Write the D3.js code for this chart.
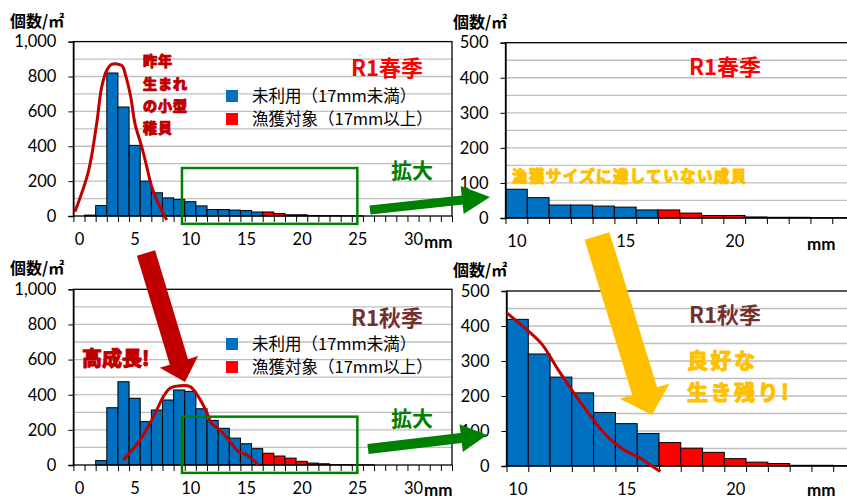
<!DOCTYPE html>
<html>
<head>
<meta charset="utf-8">
<script src="https://cdn.jsdelivr.net/npm/d3@7"></script>
<style>
body{margin:0;background:#fff}
svg{display:block}
text{font-family:Lato,"Noto Sans CJK JP",sans-serif}
.jp{font-family:"Noto Sans CJK JP",sans-serif}
</style>
</head>
<body>
<svg id="chart" width="847" height="499"></svg>
<script>
// size classes in mm (one bar per 1mm)
const binsAll = d3.range(0, 34);
const binsZoom = d3.range(10, 26);
const xLabelsAll = [0, 5, 10, 15, 20, 25, 30];
const xLabelsZoom = [10, 15, 20];
const yTicksAll = [0, 200, 400, 600, 800, 1000];
const yTicksZoom = [0, 100, 200, 300, 400, 500];

// individuals per m2, spring R1
const springVals = [0,5,60,820,625,405,200,133,104,95,82,58,37,37,34,31,23,23,14,7,7,3,2,2,1,1,0,0,0,0,0,0,0,0];
// individuals per m2, autumn R1
const autumnVals = [0,0,25,326,474,380,247,313,370,427,419,320,254,209,153,121,93,67,51,39,21,11,7,2,2,1,1,0,0,0,0,0,0,0];

// hand drawn red curves (mm, value)
const springCurveMm  = [-0.36,0.84,1.59,2.04,2.49,2.94,3.84,4.23,4.65,5.03,5.64,6.09,6.53,7.13,7.88];
const springCurveVal = [25,253,530,739,834,869,863,796,682,530,396,282,168,72,-23];
const autumnCurveMm  = [3.98,5.48,6.38,7.13,7.58,8.18,9.08,9.98,10.72,11.48,11.9,12.67,13.57,14.32,15.07,16.11];
const autumnCurveVal = [28,142,237,332,389,437,451,446,389,300,237,199,133,76,57,0];
const autumnZoomMm   = [9.54,10.53,11.15,11.83,12.6,13.5,14.13,14.9,15.66,16.1,16.57];
const autumnZoomVal  = [436,384,346,279,208,131,84,46,22,3,-16];

const BLUE = "#0070c0", RED = "#ff0000", DARKRED = "#c00000", GREEN = "#008000", YELLOW = "#ffc000", BROWN = "#73302f";

const svg = d3.select("#chart");

function panel(p){
  const g = svg.append("g");
  const x = d3.scaleBand().domain(p.bins).range([p.x0, p.x1]).padding(0);
  const xl = d3.scaleLinear().domain([p.bins[0]-0.5, p.bins[p.bins.length-1]+0.5]).range([p.x0, p.x1]);
  const y = d3.scaleLinear().domain([0, p.max]).range([p.y1, p.y0]);

  // grid
  g.append("g").selectAll("line")
    .data(d3.range(p.grid, p.max, p.grid))
    .enter().append("line")
    .attr("x1", p.x0).attr("x2", p.x1)
    .attr("y1", d => y(d)).attr("y2", d => y(d))
    .attr("stroke", "#bfbfbf").attr("stroke-width", 1.3);

  // bars
  const vals = p.bins.map(b => ({b: b, v: p.values[b]}));
  g.append("g").selectAll("rect")
    .data(vals.filter(d => d.v > 0))
    .enter().append("rect")
    .attr("x", d => x(d.b))
    .attr("width", x.bandwidth())
    .attr("y", d => y(d.v))
    .attr("height", d => y(0) - y(d.v))
    .attr("fill", d => d.b >= 17 ? RED : BLUE)
    .attr("stroke", "#000").attr("stroke-width", 1);

  // frame
  g.append("rect").attr("x", p.x0).attr("y", p.y0)
    .attr("width", p.x1 - p.x0).attr("height", p.y1 - p.y0)
    .attr("fill", "none").attr("stroke", "#000").attr("stroke-width", 1.3);

  // y axis
  const ya = g.append("g").attr("transform", "translate(" + p.x0 + ",0)")
    .call(d3.axisLeft(y).tickValues(p.yTicks).tickSize(5).tickPadding(12)
      .tickFormat(d3.format(",")));
  ya.select(".domain").attr("stroke-width", 1.3);
  ya.selectAll("text").attr("font-size", 16.5).attr("fill", "#000").attr("font-family", "Lato");

  // x ticks at bin edges
  const xt = g.append("g").attr("transform", "translate(0," + p.y1 + ")")
    .call(d3.axisBottom(xl).tickValues(p.bins.map(b => b - 0.5).concat([p.bins[p.bins.length-1] + 0.5]))
      .tickSize(6).tickFormat(""));
  xt.select(".domain").remove();
  // x labels
  const xa = g.append("g").attr("transform", "translate(0," + p.y1 + ")")
    .call(d3.axisBottom(xl).tickValues(p.xLabels).tickSize(0).tickPadding(p.labPad));
  xa.select(".domain").remove();
  xa.selectAll("text").attr("font-size", 16.5).attr("fill", "#000").attr("font-family", "Lato");

  // curve
  if (p.curveMm) {
    const line = d3.line().x(d => xl(d[0])).y(d => y(d[1])).curve(d3.curveCatmullRom.alpha(0.5));
    g.append("path").datum(d3.zip(p.curveMm, p.curveVal))
      .attr("d", line).attr("fill", "none")
      .attr("stroke", DARKRED).attr("stroke-width", 3).attr("stroke-linejoin", "round");
  }

  // unit
  g.append("text").attr("class", "jp").attr("x", p.unitX).attr("y", p.y0 - 15)
    .attr("font-size", 16).attr("font-weight", "bold").text("個数/㎡");

  return {x: x, xl: xl, y: y, g: g};
}

// ---------- panels ----------
const tl = panel({bins: binsAll, values: springVals, x0: 73.4, x1: 452, y0: 41.6, y1: 216, max: 1000, grid: 100,
  yTicks: yTicksAll, xLabels: xLabelsAll, labPad: 17, unitX: 10, curveMm: springCurveMm, curveVal: springCurveVal});
const tr = panel({bins: binsZoom, values: springVals, x0: 505.5, x1: 854, y0: 42.7, y1: 218, max: 500, grid: 50,
  yTicks: yTicksZoom, xLabels: xLabelsZoom, labPad: 17, unitX: 453});
const bl = panel({bins: binsAll, values: autumnVals, x0: 73.4, x1: 452, y0: 289.3, y1: 465, max: 1000, grid: 100,
  yTicks: yTicksAll, xLabels: xLabelsAll, labPad: 17, unitX: 10, curveMm: autumnCurveMm, curveVal: autumnCurveVal});
const br = panel({bins: binsZoom, values: autumnVals, x0: 506.5, x1: 855, y0: 291, y1: 466, max: 500, grid: 50,
  yTicks: yTicksZoom, xLabels: xLabelsZoom, labPad: 17, unitX: 453, curveMm: autumnZoomMm, curveVal: autumnZoomVal});

// "mm" axis titles
function txt(x, y, s, size, color, weight, cls){
  return svg.append("text").attr("x", x).attr("y", y).attr("font-size", size)
    .attr("fill", color || "#000").attr("font-weight", weight || "normal")
    .attr("class", cls || null).text(s);
}
txt(424, 248, "mm", 17, "#000", "bold").attr("font-family", "Lato");
txt(424, 496, "mm", 17, "#000", "bold").attr("font-family", "Lato");
txt(807, 250, "mm", 17, "#000", "bold").attr("font-family", "Lato");
txt(807, 496, "mm", 17, "#000", "bold").attr("font-family", "Lato");

// zoom boxes
[tl, bl].forEach(p => {
  svg.append("rect")
    .attr("x", p.xl(9.25)).attr("y", p.y(275))
    .attr("width", p.xl(25) - p.xl(9.25)).attr("height", p.y(-45) - p.y(275))
    .attr("fill", "none").attr("stroke", GREEN).attr("stroke-width", 2.5);
});

// legends
[0, 248].forEach(dy => {
  svg.append("rect").attr("x", 226).attr("y", 90 + dy).attr("width", 12).attr("height", 12).attr("fill", BLUE);
  svg.append("rect").attr("x", 226).attr("y", 113 + dy).attr("width", 12).attr("height", 12).attr("fill", RED);
  txt(252, 102 + dy, "未利用（17mm未満）", 16.5, "#000", "normal", "jp");
  txt(252, 125 + dy, "漁獲対象（17mm以上）", 16.5, "#000", "normal", "jp");
});

// season titles
txt(351, 76, "R1春季", 22, RED, "bold", "jp");
txt(689, 75, "R1春季", 22, RED, "bold", "jp");
txt(351, 326, "R1秋季", 22, BROWN, "bold", "jp");
txt(689, 323, "R1秋季", 22, BROWN, "bold", "jp");

// arrows
function arrow(x1, y1, x2, y2, sw, hw, hl, color){
  const dx = x2 - x1, dy = y2 - y1, L = Math.hypot(dx, dy);
  const ux = dx / L, uy = dy / L, nx = -uy, ny = ux;
  const bx = x2 - ux * hl, by = y2 - uy * hl;
  const pts = [
    [x1 + nx * sw / 2, y1 + ny * sw / 2],
    [bx + nx * sw / 2, by + ny * sw / 2],
    [bx + nx * hw / 2, by + ny * hw / 2],
    [x2, y2],
    [bx - nx * hw / 2, by - ny * hw / 2],
    [bx - nx * sw / 2, by - ny * sw / 2],
    [x1 - nx * sw / 2, y1 - ny * sw / 2]
  ];
  svg.append("path").attr("d", "M" + pts.join("L") + "Z").attr("fill", color);
}
arrow(370, 210, 490, 197, 9, 28, 28, GREEN);
arrow(368, 449, 487, 435, 10, 28, 26, GREEN);
arrow(146, 253, 185, 382, 19, 40, 21, DARKRED);
arrow(597, 236, 652, 415, 26, 52, 25, YELLOW);

// green labels
txt(391, 178, "拡大", 21, GREEN, "bold", "jp");
txt(391, 426, "拡大", 21, GREEN, "bold", "jp");

// outlined notes
function note(x, y, s, size, color, spacing){
  return txt(x, y, s, size, color, "bold", "jp")
    .attr("stroke", color).attr("stroke-width", 1.2).attr("stroke-linejoin", "round")
    .attr("letter-spacing", spacing || 0);
}
note(143, 66, "昨年", 14, DARKRED, 1);
note(143, 89, "生まれ", 14, DARKRED, 1);
note(143, 111, "の小型", 14, DARKRED, 1);
note(143, 133, "稚貝", 14, DARKRED, 1);
note(82, 366, "高成長!", 20, DARKRED, 0);
note(512, 182, "漁獲サイズに達していない成貝", 15.5, YELLOW, 1.4);
note(687, 368, "良好な", 21, YELLOW, 2.5);
note(687, 400, "生き残り!", 21, YELLOW, 2.5);
</script>
</body>
</html>
